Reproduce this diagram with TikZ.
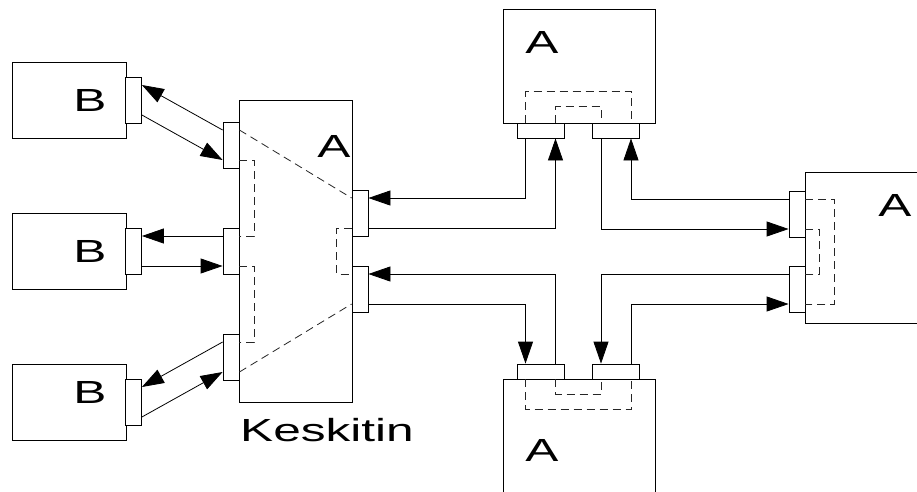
\documentclass[tikz,border=0pt]{standalone}
\usepackage{fontspec}
\setmainfont{Liberation Sans}
\usepackage{graphicx}
\usetikzlibrary{arrows.meta}
\newcommand{\wide}[1]{\scalebox{1.55}[1]{#1}}

\begin{document}
\begin{tikzpicture}[x=1pt, y=-1pt,
    box/.style={draw, line width=0.8pt, inner sep=0pt, fill=white},
    vport/.style={draw, line width=0.8pt, inner sep=0pt, fill=white,
      minimum width=16pt, minimum height=46pt},
    hport/.style={draw, line width=0.8pt, inner sep=0pt, fill=white,
      minimum width=47pt, minimum height=15pt},
    lbl/.style={inner sep=0pt, font=\fontsize{32}{38}\selectfont},
    arr/.style={-{Triangle[length=22pt, width=15pt]}, line width=0.8pt},
    link/.style={dashed, dash pattern=on 8pt off 5pt, line width=0.8pt, color=black!85}
]
  \useasboundingbox (0,0) rectangle (917,491);

  % Boxes
  \node[box, minimum width=114pt, minimum height=76pt] (b1) at (69,100) {};
  \node[box, minimum width=114pt, minimum height=76pt] (b2) at (69,251) {};
  \node[box, minimum width=114pt, minimum height=76pt] (b3) at (69,402) {};
  \node[box, minimum width=113pt, minimum height=302pt] (hub) at (295.5,251) {};
  \node[box, minimum width=152pt, minimum height=114pt] (topA) at (579,66) {};
  \node[box, minimum width=152pt, minimum height=150pt] (botA) at (579,454) {};
  \node[box, minimum width=160pt, minimum height=151pt] (rightA) at (885,247.5) {};

  % Labels
  \node[lbl] (b1lbl) at (90,100) {\wide{B}};
  \node[lbl] (b2lbl) at (90,251) {\wide{B}};
  \node[lbl] (b3lbl) at (90,392) {\wide{B}};
  \node[lbl] (hublbl) at (334,146) {\wide{A}};
  \node[lbl] (toplbl) at (542,42) {\wide{A}};
  \node[lbl] (botlbl) at (542,450) {\wide{A}};
  \node[lbl] (rightlbl) at (895,205) {\wide{A}};
  \node[lbl] (hubname) at (327,430) {\wide{Keskitin}};

  % Ports
  \node[vport] (b1p) at (133.5,100) {};
  \node[vport] (b2p) at (133.5,251) {};
  \node[vport] (b3p) at (133.5,402) {};
  \node[vport] (hL1) at (231,145) {};
  \node[vport] (hL2) at (231,251) {};
  \node[vport] (hL3) at (231,357) {};
  \node[vport] (hR1) at (360,213) {};
  \node[vport] (hR2) at (360,289) {};
  \node[hport] (tAp1) at (540.5,130.5) {};
  \node[hport] (tAp2) at (616,130.5) {};
  \node[hport] (bAp1) at (540.5,371.5) {};
  \node[hport] (bAp2) at (616,371.5) {};
  \node[vport] (rAp1) at (797,214) {};
  \node[vport] (rAp2) at (797,289) {};

  % Arrows to the B boxes
  \draw[arr] ([yshift=15pt]hL1.west) -- ([yshift=15pt]b1p.east);
  \draw[arr] ([yshift=-15pt]b1p.east) -- ([yshift=-15pt]hL1.west);
  \draw[arr] ([yshift=15pt]hL2.west) -- ([yshift=15pt]b2p.east);
  \draw[arr] ([yshift=-15pt]b2p.east) -- ([yshift=-15pt]hL2.west);
  \draw[arr] ([yshift=15pt]hL3.west) -- ([yshift=15pt]b3p.east);
  \draw[arr] ([yshift=-15pt]b3p.east) -- ([yshift=-15pt]hL3.west);

  % Arrows between the A boxes
  \draw[arr] ([xshift=-15pt]tAp1.south) |- ([yshift=15pt]hR1.east);
  \draw[arr] ([yshift=-15pt]hR1.east) -| ([xshift=15pt]tAp1.south);
  \draw[arr] ([xshift=-15pt]tAp2.south) |- ([yshift=-15pt]rAp1.west);
  \draw[arr] ([yshift=15pt]rAp1.west) -| ([xshift=15pt]tAp2.south);
  \draw[arr] ([xshift=15pt]bAp1.north) |- ([yshift=15pt]hR2.east);
  \draw[arr] ([yshift=-15pt]hR2.east) -| ([xshift=-15pt]bAp1.north);
  \draw[arr] ([yshift=15pt]rAp2.west) -| ([xshift=-15pt]bAp2.north);
  \draw[arr] ([xshift=15pt]bAp2.north) |- ([yshift=-15pt]rAp2.west);

  % Internal links
  \draw[link] ([yshift=15pt]hL1.east) -- ([yshift=15pt]hR1.west);
  \draw[link] ([yshift=-15pt]hL3.east) -- ([yshift=-15pt]hR2.west);
  \draw[link] ([yshift=-15pt]hL1.east) -- ++(15,0) |- ([yshift=15pt]hL2.east);
  \draw[link] ([yshift=-15pt]hL2.east) -- ++(15,0) |- ([yshift=15pt]hL3.east);
  \draw[link] ([yshift=-15pt]hR1.west) -- ++(-15,0) |- ([yshift=15pt]hR2.west);
  \draw[link] ([yshift=15pt]rAp1.east) -- ++(29,0) |- ([yshift=-15pt]rAp2.east);
  \draw[link] ([yshift=-15pt]rAp1.east) -- ++(14,0) |- ([yshift=15pt]rAp2.east);
  \draw[link] ([xshift=-15pt]tAp1.north) -- ++(0,-31) -| ([xshift=15pt]tAp2.north);
  \draw[link] ([xshift=15pt]tAp1.north) -- ++(0,-16) -| ([xshift=-15pt]tAp2.north);
  \draw[link] ([xshift=-15pt]bAp1.south) -- ++(0,30) -| ([xshift=15pt]bAp2.south);
  \draw[link] ([xshift=15pt]bAp1.south) -- ++(0,15) -| ([xshift=-15pt]bAp2.south);
\end{tikzpicture}
\end{document}
